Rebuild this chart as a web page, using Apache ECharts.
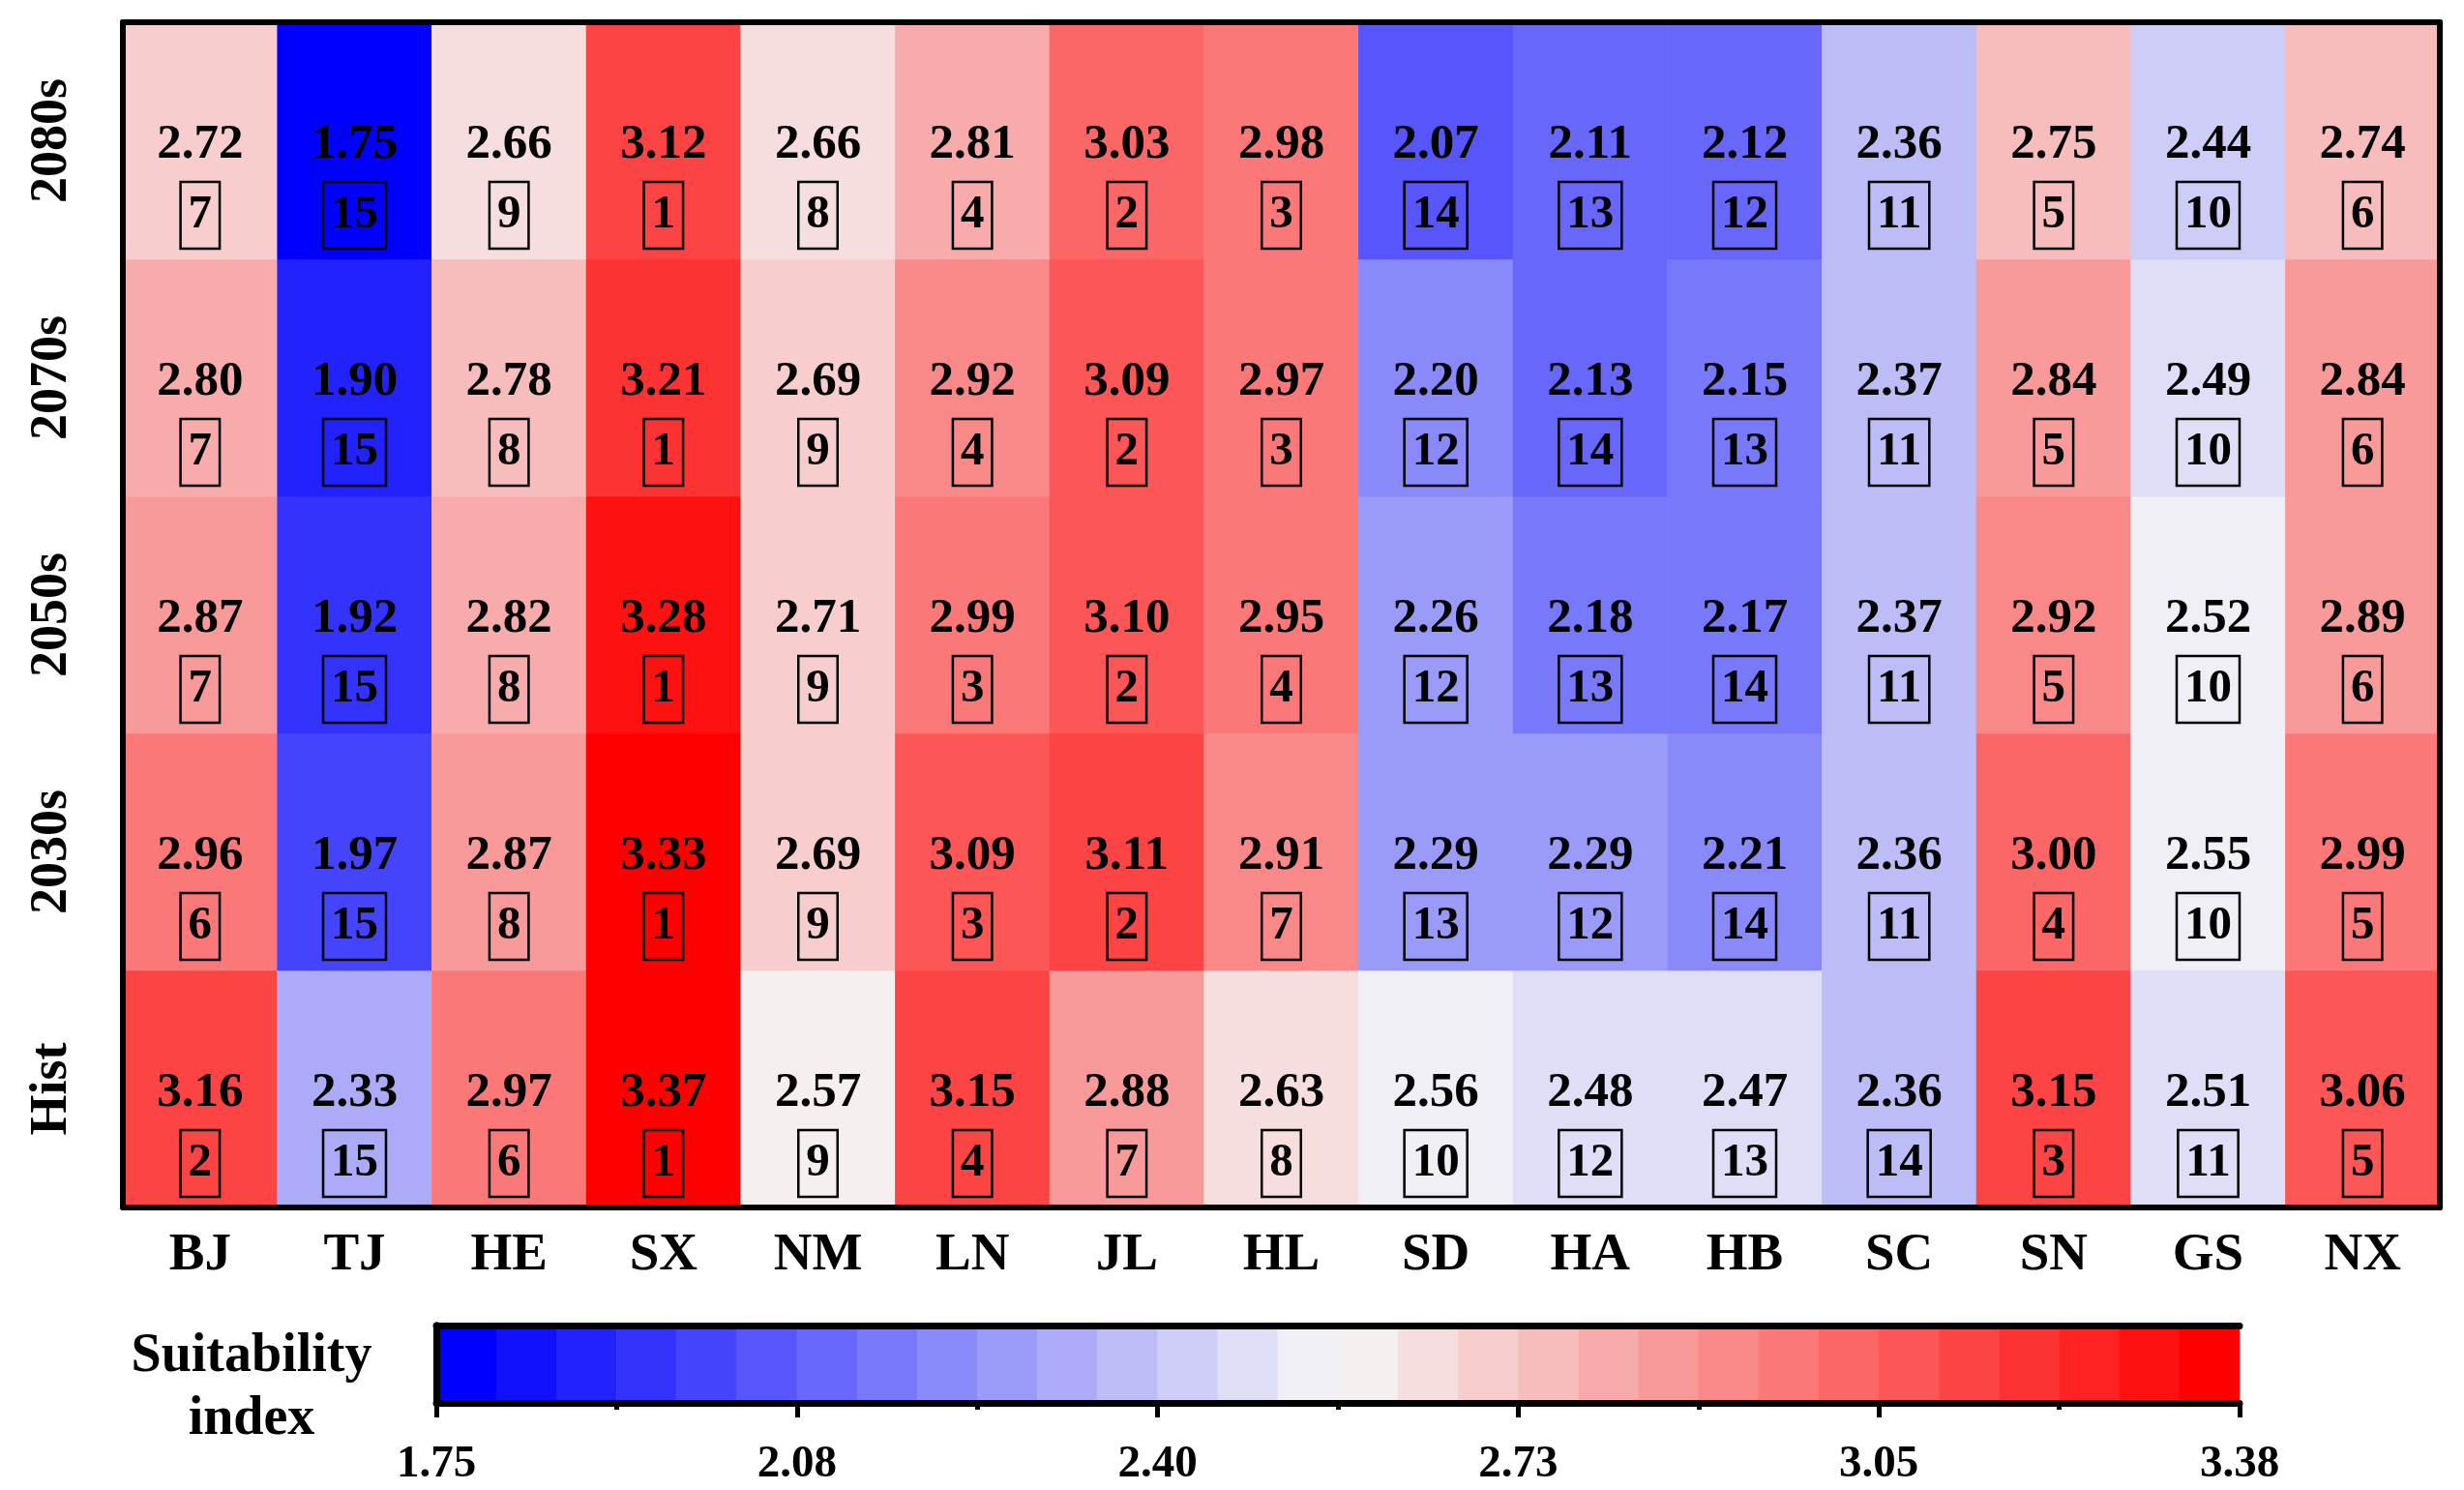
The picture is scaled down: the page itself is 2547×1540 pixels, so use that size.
<!DOCTYPE html>
<html>
<head>
<meta charset="utf-8">
<script src="https://cdn.jsdelivr.net/npm/echarts@6/dist/echarts.min.js"></script>
<style>
  html, body { margin: 0; padding: 0; background: #fff; }
  #chart { width: 2547px; height: 1540px; }
</style>
</head>
<body>
<div id="chart"></div>
<script>
// provinces along x, periods along y (bottom to top)
const provinces = ['BJ', 'TJ', 'HE', 'SX', 'NM', 'LN', 'JL', 'HL', 'SD', 'HA', 'HB', 'SC', 'SN', 'GS', 'NX']
const periods = ['Hist', '2030s', '2050s', '2070s', '2080s']

// suitability index per period
const histVals = [3.16, 2.33, 2.97, 3.37, 2.57, 3.15, 2.88, 2.63, 2.56, 2.48, 2.47, 2.36, 3.15, 2.51, 3.06]
const s2030Vals = [2.96, 1.97, 2.87, 3.33, 2.69, 3.09, 3.11, 2.91, 2.29, 2.29, 2.21, 2.36, 3.00, 2.55, 2.99]
const s2050Vals = [2.87, 1.92, 2.82, 3.28, 2.71, 2.99, 3.10, 2.95, 2.26, 2.18, 2.17, 2.37, 2.92, 2.52, 2.89]
const s2070Vals = [2.80, 1.90, 2.78, 3.21, 2.69, 2.92, 3.09, 2.97, 2.20, 2.13, 2.15, 2.37, 2.84, 2.49, 2.84]
const s2080Vals = [2.72, 1.75, 2.66, 3.12, 2.66, 2.81, 3.03, 2.98, 2.07, 2.11, 2.12, 2.36, 2.75, 2.44, 2.74]

// rank of each province within a period
const histRank = [2, 15, 6, 1, 9, 4, 7, 8, 10, 12, 13, 14, 3, 11, 5]
const s2030Rank = [6, 15, 8, 1, 9, 3, 2, 7, 13, 12, 14, 11, 4, 10, 5]
const s2050Rank = [7, 15, 8, 1, 9, 3, 2, 4, 12, 13, 14, 11, 5, 10, 6]
const s2070Rank = [7, 15, 8, 1, 9, 4, 2, 3, 12, 14, 13, 11, 5, 10, 6]
const s2080Rank = [7, 15, 9, 1, 8, 4, 2, 3, 14, 13, 12, 11, 5, 10, 6]

// colour bar
const barMin = 1.75
const barMax = 3.38
const barLevels = 30
const barTickLabels = ['1.75', '2.08', '2.40', '2.73', '3.05', '3.38']

const FONT = 'Liberation Serif'

const valueRows = [histVals, s2030Vals, s2050Vals, s2070Vals, s2080Vals]
const rankRows = [histRank, s2030Rank, s2050Rank, s2070Rank, s2080Rank]

let cells = []
valueRows.forEach((row, y) => {
    row.forEach((v, x) => {
        cells.push([x, y, v, rankRows[y][x]])
    })
})

// blue - white - red, 30 steps
function levelColor(i) {
    let t = i / (barLevels - 1)
    if (t <= 0.5) {
        let s = Math.round(248 * t * 2)
        let b = Math.round(255 - 10 * t * 2)
        return 'rgb(' + s + ',' + s + ',' + b + ')'
    }
    let s = Math.round(248 * (1 - t) * 2)
    let r = Math.round(255 - 10 * (1 - t) * 2)
    return 'rgb(' + r + ',' + s + ',' + s + ')'
}

const step = (barMax - barMin) / barLevels
let pieces = []
let barCells = []
let barCats = []
for (let i = 0; i < barLevels; i++) {
    let lo = barMin + i * step
    let piece = { gte: lo, color: levelColor(i) }
    if (i < barLevels - 1) piece.lt = lo + step
    else piece.lte = barMax
    pieces.push(piece)
    barCats.push(String(i))
    barCells.push([i, 0, lo + step / 2])
}

const chart = echarts.init(document.getElementById('chart'))

const option = {
    backgroundColor: '#fff',
    animation: false,
    grid: [
        { left: 127, right: 25, top: 23, height: 1225 },
        { left: 451, width: 1864, top: 1370, height: 80 }
    ],
    visualMap: {
        type: 'piecewise',
        show: false,
        dimension: 2,
        seriesIndex: [0, 1],
        pieces: pieces
    },
    xAxis: [
        {
            gridIndex: 0,
            type: 'category',
            data: provinces,
            position: 'bottom',
            z: 10,
            axisLine: { lineStyle: { color: '#000', width: 6 } },
            axisTick: { length: 16, lineStyle: { color: '#000', width: 5 } },
            axisLabel: { color: '#000', fontFamily: FONT, fontWeight: 'bold', fontSize: 55, margin: 22 },
            splitLine: { show: false }
        },
        {
            gridIndex: 0,
            type: 'category',
            data: provinces,
            position: 'top',
            z: 10,
            axisLine: { lineStyle: { color: '#000', width: 6 } },
            axisTick: { show: false },
            axisLabel: { show: false }
        },
        {
            gridIndex: 1,
            type: 'category',
            data: barCats,
            show: false
        },
        {
            gridIndex: 1,
            type: 'value',
            min: 0,
            max: barLevels,
            interval: 6,
            position: 'bottom',
            z: 10,
            axisLine: { show: true, lineStyle: { color: '#000', width: 7 } },
            axisTick: { show: true, length: 15, lineStyle: { color: '#000', width: 5 } },
            minorTick: { show: true, splitNumber: 2, length: 7, lineStyle: { color: '#000', width: 5 } },
            splitLine: { show: false },
            axisLabel: {
                color: '#000', fontFamily: FONT, fontWeight: 'bold', fontSize: 47, margin: 40,
                formatter: v => barTickLabels[Math.round(v / 6)]
            }
        },
        {
            gridIndex: 1,
            type: 'value',
            min: 0,
            max: barLevels,
            position: 'top',
            z: 10,
            axisLine: { show: true, lineStyle: { color: '#000', width: 7 } },
            axisTick: { show: false },
            axisLabel: { show: false },
            splitLine: { show: false }
        }
    ],
    yAxis: [
        {
            gridIndex: 0,
            type: 'category',
            data: periods,
            position: 'left',
            z: 10,
            axisLine: { lineStyle: { color: '#000', width: 6 } },
            axisTick: { length: 16, lineStyle: { color: '#000', width: 5 } },
            axisLabel: { color: '#000', fontFamily: FONT, fontWeight: 'bold', fontSize: 54, rotate: 90, margin: 46 },
            splitLine: { show: false }
        },
        {
            gridIndex: 0,
            type: 'category',
            data: periods,
            position: 'right',
            z: 10,
            axisLine: { lineStyle: { color: '#000', width: 6 } },
            axisTick: { show: false },
            axisLabel: { show: false }
        },
        {
            gridIndex: 1,
            type: 'category',
            data: ['bar'],
            position: 'left',
            z: 10,
            axisLine: { show: true, lineStyle: { color: '#000', width: 7 } },
            axisTick: { show: false },
            axisLabel: { show: false }
        },
        {
            gridIndex: 1,
            type: 'category',
            data: ['bar'],
            position: 'right',
            z: 10,
            axisLine: { show: true, lineStyle: { color: '#000', width: 7 } },
            axisTick: { show: false },
            axisLabel: { show: false }
        }
    ],
    graphic: [
        {
            type: 'text',
            x: 260,
            y: 1435,
            style: {
                text: 'Suitability\nindex',
                fill: '#000',
                font: 'bold 56px "Liberation Serif"',
                textAlign: 'center',
                textVerticalAlign: 'middle',
                lineHeight: 65
            }
        }
    ],
    series: [
        {
            type: 'heatmap',
            xAxisIndex: 0,
            yAxisIndex: 0,
            data: cells,
            label: {
                show: true,
                offset: [0, 38],
                formatter: p => '{v|' + p.value[2].toFixed(2) + '}\n{r|' + p.value[3] + '}',
                rich: {
                    v: { fontFamily: FONT, fontWeight: 'bold', fontSize: 51, color: '#000', lineHeight: 78 },
                    r: {
                        fontFamily: FONT, fontWeight: 'bold', fontSize: 49, color: '#000',
                        borderColor: '#000', borderWidth: 2.5, padding: [10, 8, 10, 8], lineHeight: 68
                    }
                }
            },
            emphasis: { disabled: true }
        },
        {
            type: 'heatmap',
            xAxisIndex: 2,
            yAxisIndex: 2,
            data: barCells,
            label: { show: false },
            emphasis: { disabled: true }
        }
    ]
}

chart.setOption(option)
</script>
</body>
</html>
